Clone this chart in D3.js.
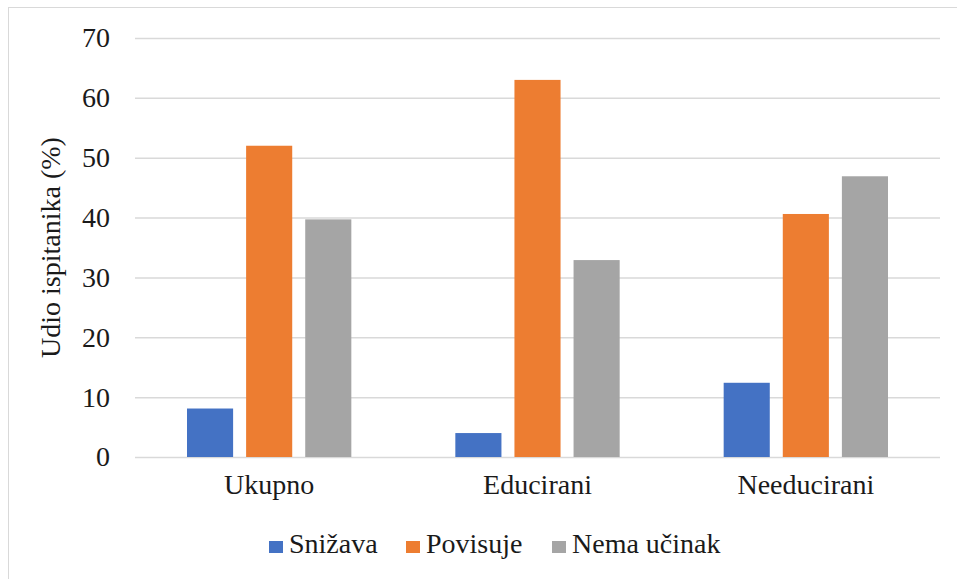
<!DOCTYPE html>
<html>
<head>
<meta charset="utf-8">
<script src="https://cdn.jsdelivr.net/npm/d3@7"></script>
<style>
  body { margin: 0; background: #fff; }
  text { font-family: "Liberation Serif", "Times New Roman", serif; fill: #1a1a1a; }
</style>
</head>
<body>
<div id="chart"></div>
<script>
const CATEGORIES = ["Ukupno", "Educirani", "Needucirani"];
const SERIES = ["Snižava", "Povisuje", "Nema učinak"];
const SNIZAVA = [8.1, 4.0, 12.4];
const POVISUJE = [52.0, 63.0, 40.6];
const NEMA_UCINAK = [39.7, 32.9, 46.9];
const Y_TICKS = [0, 10, 20, 30, 40, 50, 60, 70];

const COLORS = ["#4472c4", "#ed7d31", "#a5a5a5"];
const FONT = "'Liberation Serif', 'Times New Roman', serif";
const FONT_SIZE = "28px";

const WIDTH = 957, HEIGHT = 579;
const MARGINS = { top: 38, right: 17, bottom: 122, left: 135 };
const INNER = {
    WIDTH: WIDTH - MARGINS.left - MARGINS.right,
    HEIGHT: HEIGHT - MARGINS.top - MARGINS.bottom
};

const data = CATEGORIES.map((c, i) => ({
    category: c,
    values: [SNIZAVA[i], POVISUJE[i], NEMA_UCINAK[i]]
}));

const svg = d3.select("#chart").append("svg")
    .attr("width", WIDTH)
    .attr("height", HEIGHT);

// outer chart border
svg.append("rect")
    .attr("x", 8.5).attr("y", 7.5)
    .attr("width", WIDTH).attr("height", HEIGHT)
    .attr("fill", "none")
    .attr("stroke", "#d9d9d9")
    .attr("stroke-width", 1);

const g = svg.append("g")
    .attr("transform", "translate(" + MARGINS.left + "," + MARGINS.top + ")");

const y = d3.scaleLinear().domain([0, 70]).range([INNER.HEIGHT, 0]);

const x0 = d3.scaleBand().domain(CATEGORIES).range([0, INNER.WIDTH]);
const bandPad = 52;
const x1 = d3.scaleBand().domain(SERIES)
    .range([bandPad, x0.bandwidth() - bandPad])
    .paddingInner(0.22);

// gridlines
g.append("g")
    .selectAll("line")
    .data(Y_TICKS)
    .enter()
    .append("line")
    .attr("x1", 0).attr("x2", INNER.WIDTH)
    .attr("y1", d => y(d) + 0.5).attr("y2", d => y(d) + 0.5)
    .attr("stroke", "#d9d9d9")
    .attr("stroke-width", 1.5);

// y axis labels
const yAxis = g.append("g")
    .call(d3.axisLeft(y).tickValues(Y_TICKS).tickSize(0).tickPadding(25));
yAxis.select(".domain").remove();
yAxis.selectAll("text")
    .style("font-family", FONT)
    .style("font-size", FONT_SIZE)
    .attr("fill", "#1a1a1a");

// bars
const groups = g.append("g")
    .selectAll("g")
    .data(data)
    .enter()
    .append("g")
    .attr("transform", d => "translate(" + x0(d.category) + ",0)");

groups.selectAll("rect")
    .data(d => d.values.map((v, i) => ({ series: SERIES[i], value: v, idx: i })))
    .enter()
    .append("rect")
    .attr("x", d => x1(d.series))
    .attr("y", d => y(d.value))
    .attr("width", x1.bandwidth())
    .attr("height", d => y(0) - y(d.value))
    .attr("fill", d => COLORS[d.idx]);

// x axis
const xAxis = g.append("g")
    .attr("transform", "translate(0," + INNER.HEIGHT + ")")
    .call(d3.axisBottom(x0).tickSize(0).tickPadding(17));
xAxis.select(".domain").remove();
xAxis.selectAll("text")
    .style("font-family", FONT)
    .style("font-size", FONT_SIZE)
    .attr("fill", "#1a1a1a");

// y axis title
svg.append("text")
    .attr("transform", "translate(60," + (MARGINS.top + INNER.HEIGHT / 2) + ") rotate(-90)")
    .attr("text-anchor", "middle")
    .style("font-family", FONT)
    .style("font-size", FONT_SIZE)
    .text("Udio ispitanika (%)");

// legend
const legendItems = [
    { label: SERIES[0], x: 269 },
    { label: SERIES[1], x: 406 },
    { label: SERIES[2], x: 552 }
];
const legend = svg.append("g").attr("transform", "translate(0,553)");
legendItems.forEach((d, i) => {
    legend.append("rect")
        .attr("x", d.x).attr("y", -12)
        .attr("width", 14).attr("height", 12)
        .attr("fill", COLORS[i]);
    legend.append("text")
        .attr("x", d.x + 20).attr("y", 0)
        .style("font-family", FONT)
        .style("font-size", FONT_SIZE)
        .text(d.label);
});
</script>
</body>
</html>
